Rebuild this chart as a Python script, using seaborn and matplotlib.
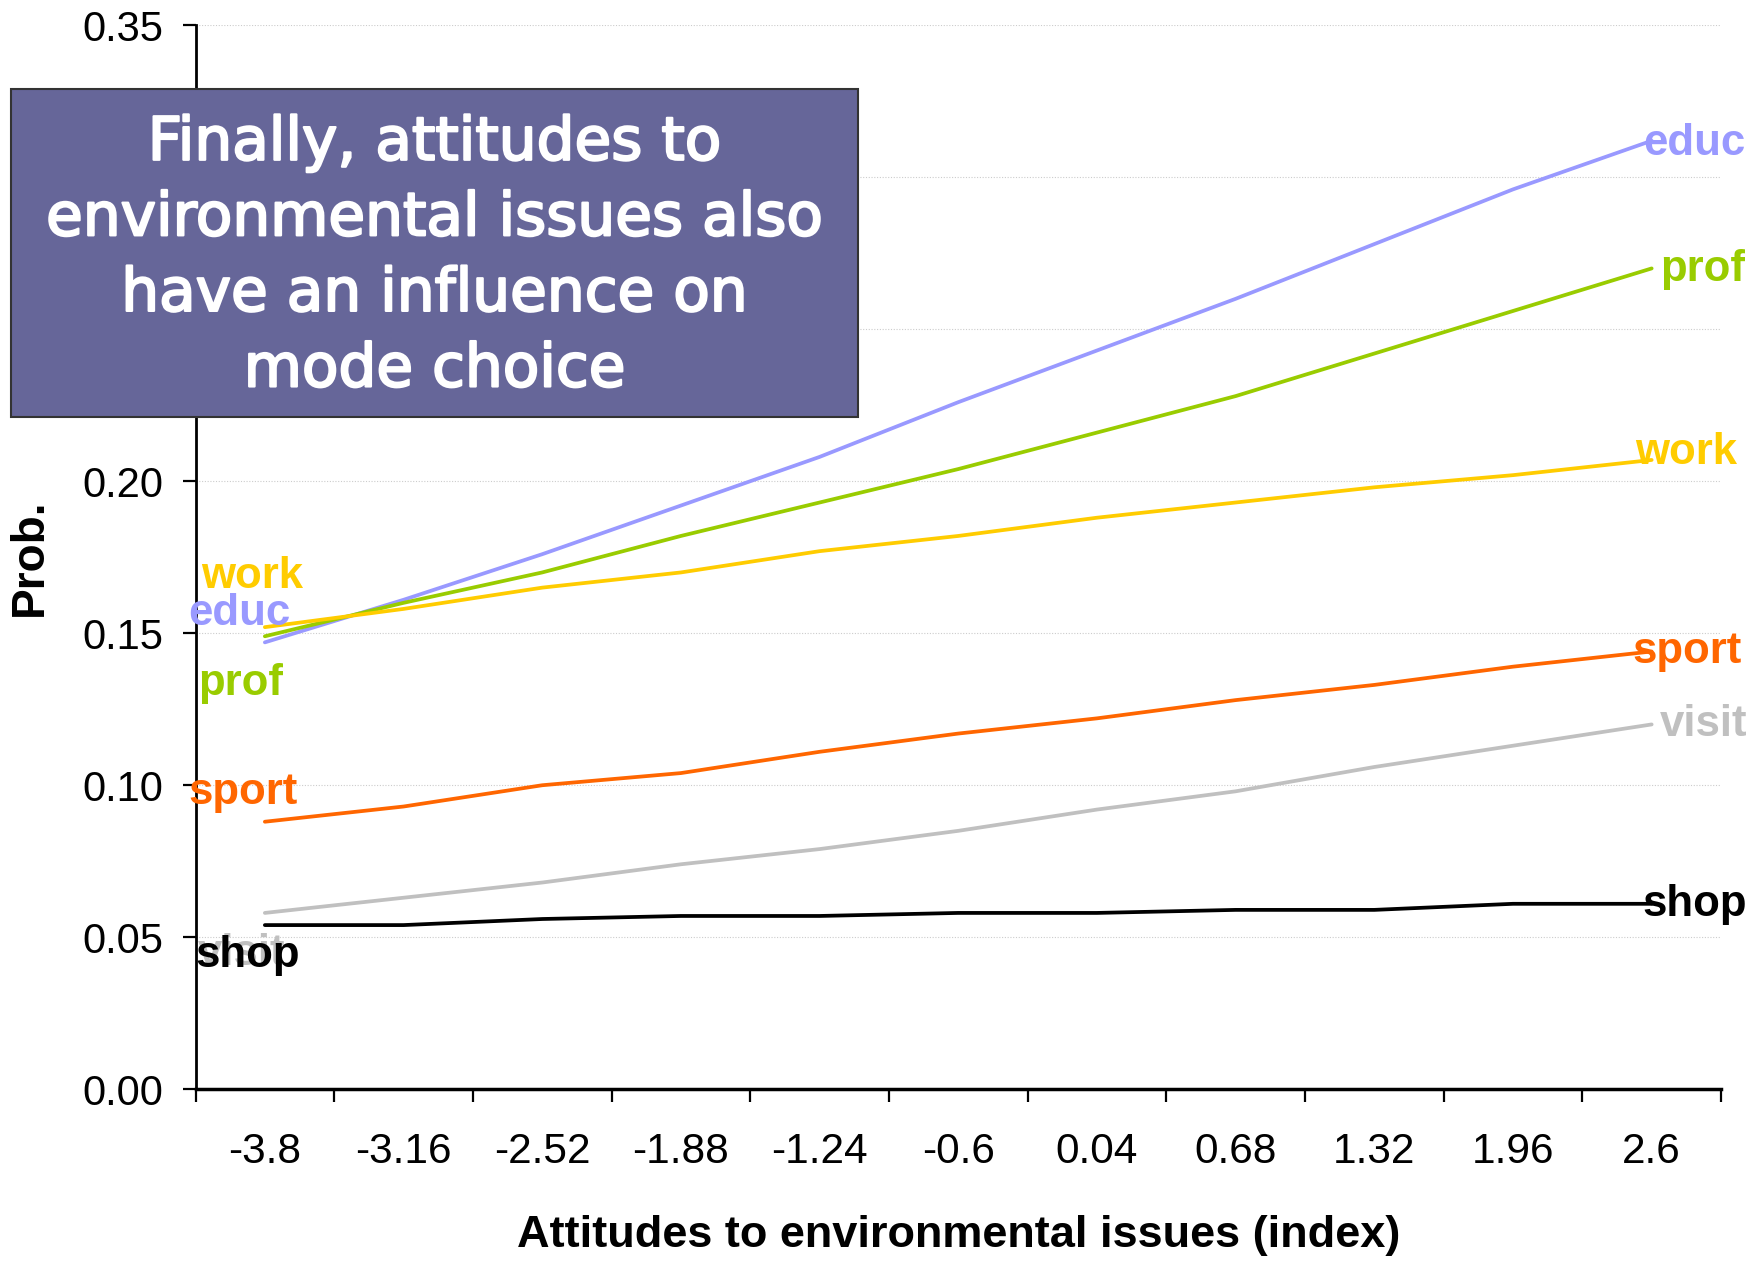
import numpy as np
import pandas as pd
import seaborn as sns
import matplotlib.pyplot as plt
import matplotlib.patheffects as pe
from matplotlib.patches import Rectangle

# attitude index categories on the x axis
x_labels = ["-3.8", "-3.16", "-2.52", "-1.88", "-1.24", "-0.6",
            "0.04", "0.68", "1.32", "1.96", "2.6"]

# probabilities, one list per trip purpose
educ = [0.147, 0.161, 0.176, 0.192, 0.208, 0.226, 0.243, 0.260, 0.278, 0.296, 0.312]
prof = [0.149, 0.160, 0.170, 0.182, 0.193, 0.204, 0.216, 0.228, 0.242, 0.256, 0.270]
work = [0.152, 0.158, 0.165, 0.170, 0.177, 0.182, 0.188, 0.193, 0.198, 0.202, 0.207]
sport = [0.088, 0.093, 0.100, 0.104, 0.111, 0.117, 0.122, 0.128, 0.133, 0.139, 0.144]
visit = [0.058, 0.063, 0.068, 0.074, 0.079, 0.085, 0.092, 0.098, 0.106, 0.113, 0.120]
shop = [0.054, 0.054, 0.056, 0.057, 0.057, 0.058, 0.058, 0.059, 0.059, 0.061, 0.061]

modes = ["educ", "prof", "work", "sport", "visit", "shop"]
series = [educ, prof, work, sport, visit, shop]
colors = {"educ": "#9999FF", "prof": "#99CC00", "work": "#FFCC00",
          "sport": "#FF6600", "visit": "#C0C0C0", "shop": "#000000"}

# where the Excel style data labels sit (x in category units, y in prob units)
left_label_xy = {"work": (-0.46, 0.1685), "educ": (-0.55, 0.1565), "prof": (-0.48, 0.1335),
                 "sport": (-0.55, 0.0975), "visit": (-0.48, 0.0445), "shop": (-0.50, 0.0440)}
right_label_xy = {"educ": (9.94, 0.3112), "prof": (10.06, 0.2695), "work": (9.88, 0.2095),
                  "sport": (9.86, 0.1440), "visit": (10.06, 0.1200), "shop": (9.93, 0.0608)}

rows = []
for m, vals in zip(modes, series):
    for i, v in enumerate(vals):
        rows.append({"pos": i, "prob": v, "mode": m})
df = pd.DataFrame(rows)

sns.set_style("white")
plt.rcParams['font.family'] = ['Liberation Sans', 'DejaVu Sans']
plt.rcParams['text.color'] = 'black'
plt.rcParams['axes.labelcolor'] = 'black'
plt.rcParams['xtick.color'] = 'black'
plt.rcParams['ytick.color'] = 'black'

fig = plt.figure(figsize=(17.52, 12.61), dpi=100)
ax = fig.add_axes([0.1116, 0.1362, 0.8707, 0.8438])

sns.lineplot(data=df, x="pos", y="prob", hue="mode", hue_order=modes,
             palette=colors, linewidth=2.7, legend=False, sort=False, ax=ax)

ax.set_xlim(-0.5, 10.5)
ax.set_ylim(0, 0.35)

# ticks between categories, labels on the categories
ax.set_xticks(np.arange(-0.5, 11, 1))
ax.set_xticklabels([])
ax.set_xticks(range(len(x_labels)), minor=True)
ax.set_xticklabels(x_labels, minor=True)
ax.tick_params(axis="x", which="major", bottom=True, direction="out", length=9.5, width=1.6, color="black")
ax.tick_params(axis="x", which="minor", bottom=True, length=0, pad=31, labelsize=30.5)

yt = np.arange(0, 0.351, 0.05)
ax.set_yticks(yt)
ax.set_yticklabels([f"{v:.2f}" for v in yt])
ax.tick_params(axis="y", left=True, direction="out", length=9.5, width=1.6, color="black",
               pad=14, labelsize=30)

ax.yaxis.grid(True, linestyle=(0, (1, 1.5)), color="#cccccc", linewidth=0.8)
ax.xaxis.grid(False)

for side in ["top", "right"]:
    ax.spines[side].set_visible(False)
ax.spines["left"].set_color("black")
ax.spines["left"].set_linewidth(2)
ax.spines["bottom"].set_color("black")
ax.spines["bottom"].set_linewidth(2.5)

ax.set_xlabel("Attitudes to environmental issues (index)", fontsize=32.5, fontweight="bold")
ax.set_ylabel("Prob.", fontsize=33, fontweight="bold")
ax.xaxis.set_label_coords(0.5, -0.118)
ax.yaxis.set_label_coords(-0.094, 0.5)

for m in modes:
    lx, ly = left_label_xy[m]
    ax.text(lx, ly, m, color=colors[m], fontsize=31.5, fontweight="bold",
            ha="left", va="center", clip_on=False)
    rx, ry = right_label_xy[m]
    ax.text(rx, ry, m, color=colors[m], fontsize=31.5, fontweight="bold",
            ha="left", va="center", clip_on=False)

# title box on top of the chart
box = Rectangle((0.00628, 0.6693), 0.4834, 0.2601, transform=fig.transFigure,
                facecolor="#666699", edgecolor="#333333", linewidth=1.5, zorder=5)
fig.patches.append(box)
fig.text(0.248, 0.7965, "Finally, attitudes to\nenvironmental issues also\nhave an influence on\nmode choice",
         ha="center", va="center", color="white", fontsize=43, family="DejaVu Sans",
         linespacing=1.36, zorder=6,
         path_effects=[pe.withStroke(linewidth=1.6, foreground="white")])

fig.savefig("out.png", dpi=100)
